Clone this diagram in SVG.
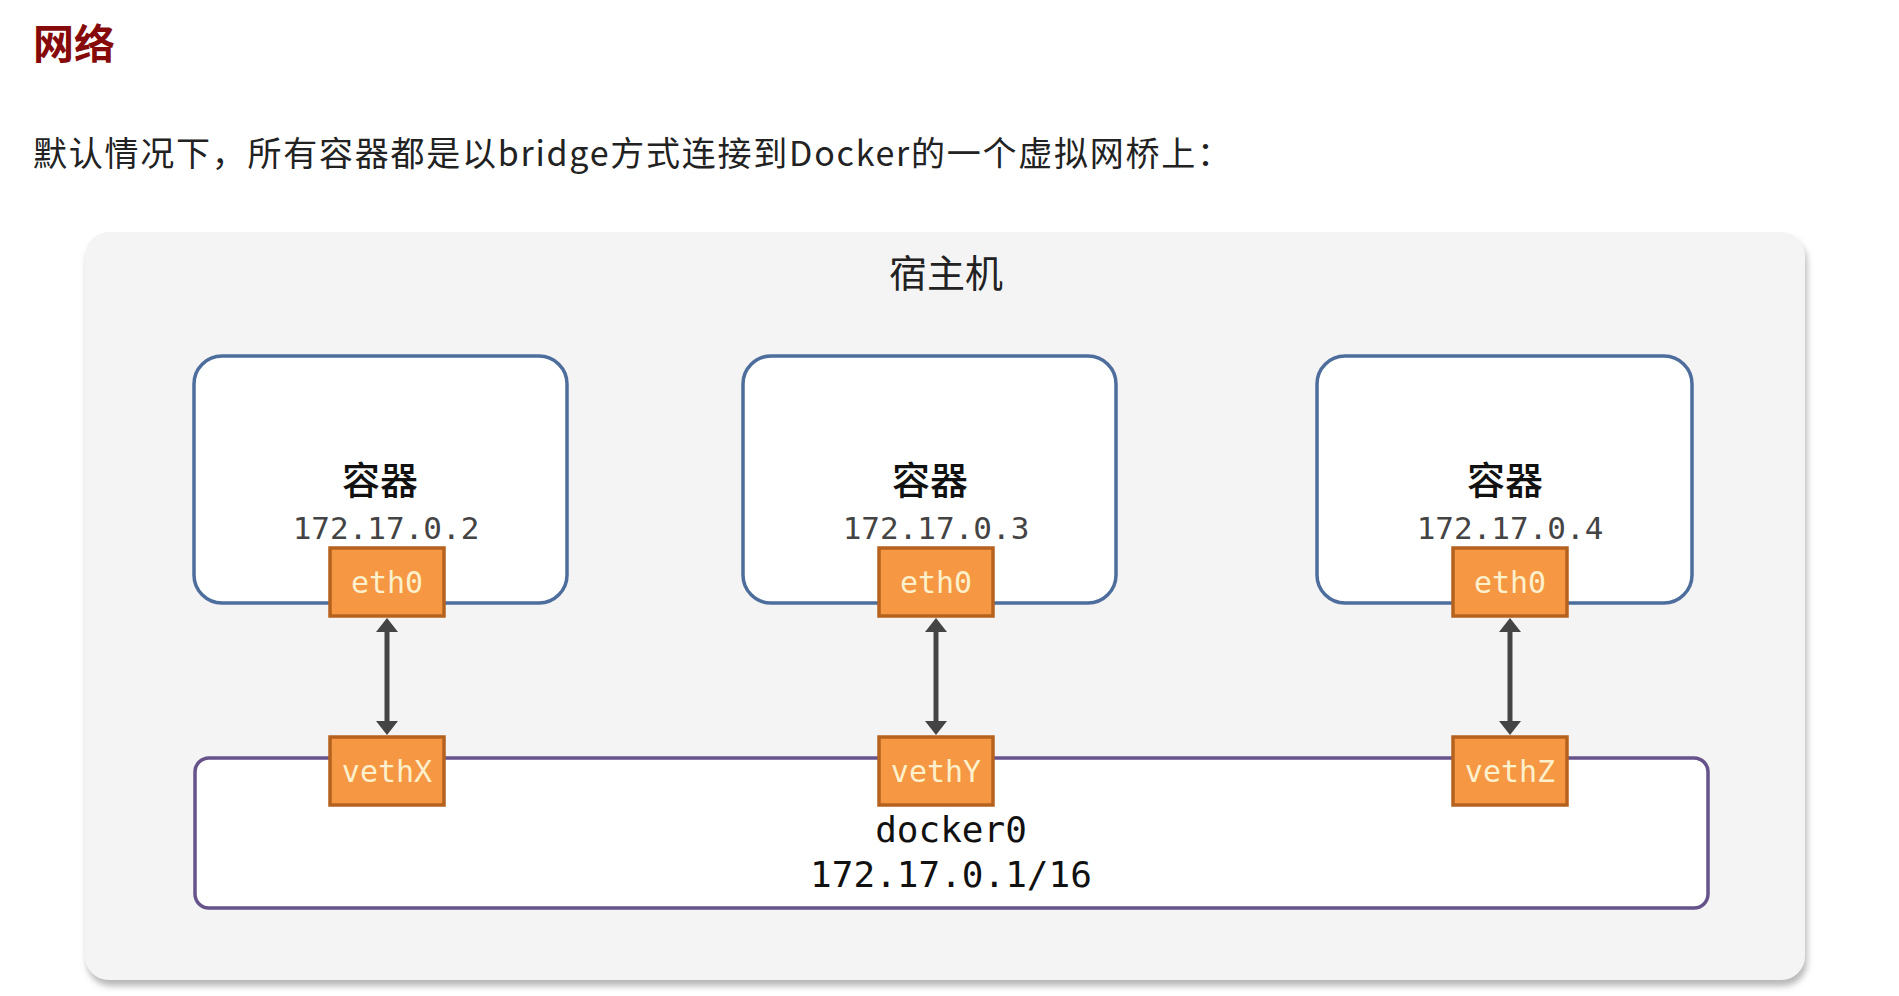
<svg xmlns="http://www.w3.org/2000/svg" width="1899" height="996" viewBox="0 0 1899 996">
  <style>
    .cjk { font-family: "Noto Sans CJK SC", "Noto Sans", sans-serif; }
    .mono { font-family: "DejaVu Sans Mono", "Liberation Mono", monospace; }
    .container { fill: #ffffff; stroke: #4d6e9c; stroke-width: 3.5; }
    .port { fill: #f59743; stroke: #b5621f; stroke-width: 3.5; }
    .port-label { font-size: 30px; fill: #fdf0cc; text-anchor: middle; }
    .ip { font-size: 31px; fill: #444444; text-anchor: middle; }
    .cname { font-size: 38px; fill: #111111; text-anchor: middle; font-weight: 500; }
    .link { stroke: #444444; stroke-width: 5; fill: none; }
  </style>
  <defs>
    <filter id="shadow" x="-5%" y="-5%" width="110%" height="115%">
      <feDropShadow dx="2" dy="6" stdDeviation="3" flood-color="#888888" flood-opacity="0.6"/>
    </filter>
    <marker id="arrow" viewBox="0 0 14 22" refX="2" refY="11" markerWidth="14" markerHeight="22" markerUnits="userSpaceOnUse" orient="auto-start-reverse">
      <path d="M0,0 L14,11 L0,22 Z" fill="#444444"/>
    </marker>
  </defs>

  <rect x="0" y="0" width="1899" height="996" fill="#ffffff"/>

  <g id="title">
    <text x="33" y="59" class="cjk" font-size="41" font-weight="700" fill="#860a0a">网络</text>
  </g>
  <g id="subtitle">
    <text x="33" y="166" class="cjk" font-size="34" fill="#222222" textLength="1198" lengthAdjust="spacing">默认情况下，所有容器都是以bridge方式连接到Docker的一个虚拟网桥上：</text>
  </g>

  <g id="host">
    <rect x="85" y="232" width="1720" height="748" rx="24" fill="#f4f4f4" filter="url(#shadow)"/>
    <text x="946" y="287" class="cjk" font-size="38" fill="#222222" text-anchor="middle">宿主机</text>
  </g>

  <g id="container1">
    <rect class="container" x="194" y="356" width="373" height="247" rx="28"/>
    <text class="cjk cname" x="380" y="494">容器</text>
    <text class="mono ip" x="386" y="539">172.17.0.2</text>
  </g>
  <g id="container2">
    <rect class="container" x="743" y="356" width="373" height="247" rx="28"/>
    <text class="cjk cname" x="930" y="494">容器</text>
    <text class="mono ip" x="936" y="539">172.17.0.3</text>
  </g>
  <g id="container3">
    <rect class="container" x="1317" y="356" width="375" height="247" rx="28"/>
    <text class="cjk cname" x="1505" y="494">容器</text>
    <text class="mono ip" x="1510" y="539">172.17.0.4</text>
  </g>

  <g id="docker0">
    <rect x="195" y="758" width="1513" height="150" rx="14" fill="#ffffff" stroke="#65538a" stroke-width="3.5"/>
    <text class="mono" x="951" y="842" font-size="36" fill="#111111" text-anchor="middle">docker0</text>
    <text class="mono" x="951" y="887" font-size="36" fill="#111111" text-anchor="middle">172.17.0.1/16</text>
  </g>

  <g id="eth0-1">
    <rect class="port" x="330" y="548" width="114" height="68"/>
    <text class="mono port-label" x="387" y="593">eth0</text>
  </g>
  <g id="eth0-2">
    <rect class="port" x="879" y="548" width="114" height="68"/>
    <text class="mono port-label" x="936" y="593">eth0</text>
  </g>
  <g id="eth0-3">
    <rect class="port" x="1453" y="548" width="114" height="68"/>
    <text class="mono port-label" x="1510" y="593">eth0</text>
  </g>

  <g id="vethX">
    <rect class="port" x="330" y="737" width="114" height="68"/>
    <text class="mono port-label" x="387" y="782">vethX</text>
  </g>
  <g id="vethY">
    <rect class="port" x="879" y="737" width="114" height="68"/>
    <text class="mono port-label" x="936" y="782">vethY</text>
  </g>
  <g id="vethZ">
    <rect class="port" x="1453" y="737" width="114" height="68"/>
    <text class="mono port-label" x="1510" y="782">vethZ</text>
  </g>

  <g id="connectors">
    <line class="link" x1="387" y1="630" x2="387" y2="723" marker-start="url(#arrow)" marker-end="url(#arrow)"/>
    <line class="link" x1="936" y1="630" x2="936" y2="723" marker-start="url(#arrow)" marker-end="url(#arrow)"/>
    <line class="link" x1="1510" y1="630" x2="1510" y2="723" marker-start="url(#arrow)" marker-end="url(#arrow)"/>
  </g>
</svg>
